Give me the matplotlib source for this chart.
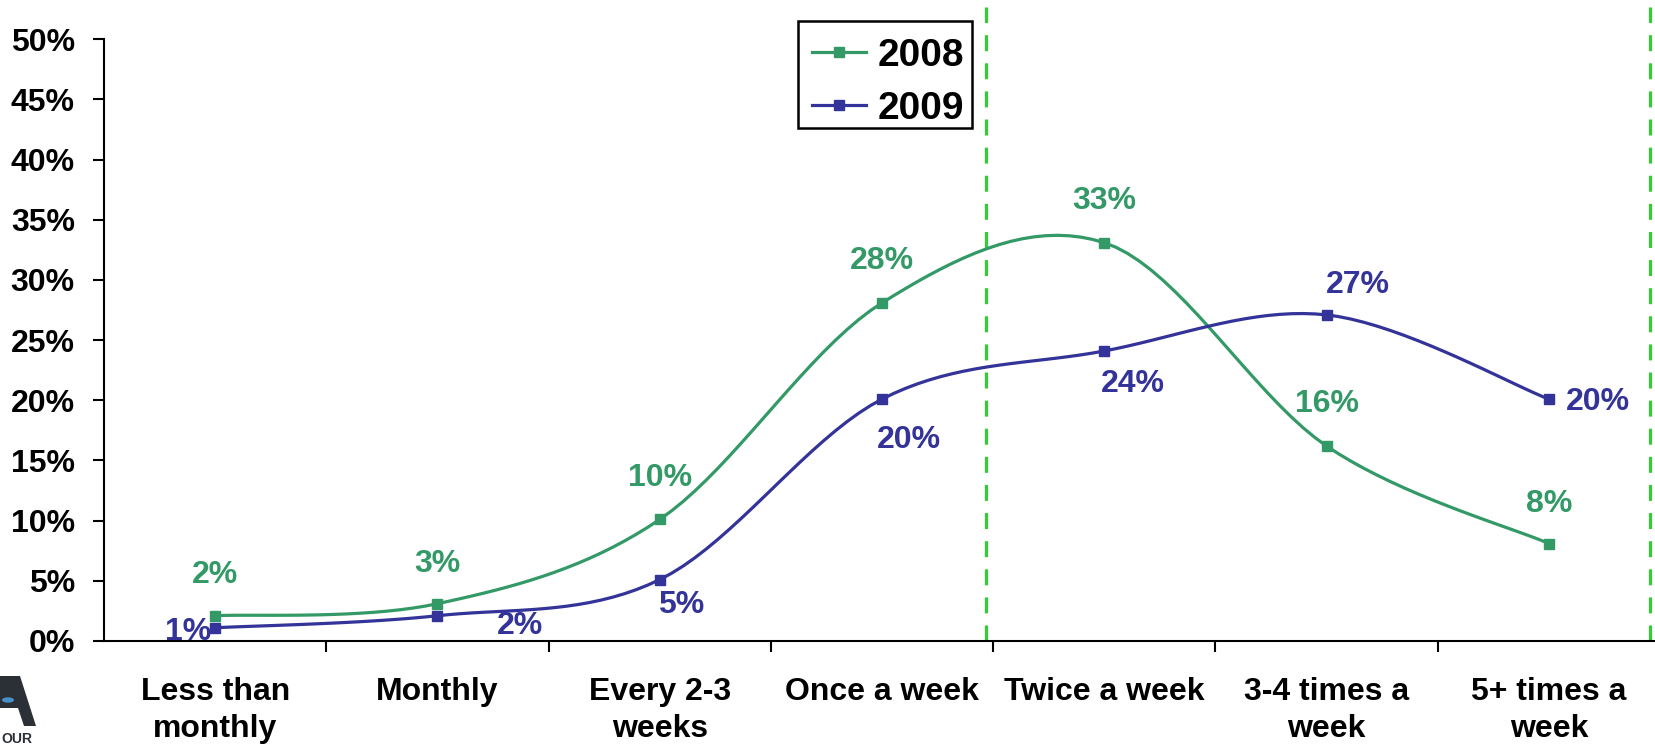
import numpy as np
import matplotlib
matplotlib.use("Agg")
import matplotlib.pyplot as plt
from matplotlib.patches import Polygon, Circle, Rectangle

categories = ["Less than\nmonthly", "Monthly", "Every 2-3\nweeks", "Once a week",
              "Twice a week", "3-4 times a\nweek", "5+ times a\nweek"]
values_2008 = [2.1, 3.1, 10.1, 28.1, 33.1, 16.2, 8.1]
values_2009 = [1.1, 2.1, 5.1, 20.1, 24.1, 27.1, 20.1]
labels_2008 = ["2%", "3%", "10%", "28%", "33%", "16%", "8%"]
labels_2009 = ["1%", "2%", "5%", "20%", "24%", "27%", "20%"]
# label offsets in pixels (dx, dy)
offsets_2008 = [(0, 41), (0, 40), (0, 41), (0, 42), (0, 42), (0, 42), (0, 40)]
offsets_2009 = [(-27, -4), (83, -10), (21, -25), (27, -41), (29, -33), (31, 30), (49, -3)]

GREEN = "#339966"
BLUE = "#333399"
DASH = "#33CC33"
FONT = "Liberation Sans"
W, H = 1656, 747


def fx(px):
    return px / W


def fy(py):
    # pixel row from the top -> figure fraction
    return 1 - py / H


def smooth(y, n=20):
    # Excel-style smoothed line (Catmull-Rom / Bezier)
    x = np.arange(len(y), dtype=float)
    y = np.asarray(y, dtype=float)
    px = np.concatenate([[x[0]], x, [x[-1]]])
    py = np.concatenate([[y[0]], y, [y[-1]]])
    xs, ys = [], []
    t = np.linspace(0, 1, n)
    for i in range(1, len(px) - 2):
        p0 = np.array([px[i], py[i]])
        p3 = np.array([px[i + 1], py[i + 1]])
        p1 = p0 + (np.array([px[i + 1], py[i + 1]]) - np.array([px[i - 1], py[i - 1]])) / 6
        p2 = p3 - (np.array([px[i + 2], py[i + 2]]) - np.array([px[i], py[i]])) / 6
        b = ((1 - t) ** 3)[:, None] * p0 + (3 * (1 - t) ** 2 * t)[:, None] * p1 \
            + (3 * (1 - t) * t ** 2)[:, None] * p2 + (t ** 3)[:, None] * p3
        xs.extend(b[:, 0])
        ys.extend(b[:, 1])
    return np.array(xs), np.array(ys)


fig = plt.figure(figsize=(W / 100, H / 100), dpi=100)
ax = fig.add_axes([fx(104), fy(641), fx(1556), 601.7 / H])

x = np.arange(len(categories))
for vals, color, name in [(values_2008, GREEN, "2008"), (values_2009, BLUE, "2009")]:
    sx, sy = smooth(vals)
    ax.plot(sx, sy, color=color, lw=2.3, zorder=3)
    ax.plot(x, vals, ls="none", marker="s", ms=7.5, color=color, zorder=4)
    ax.plot([], [], color=color, lw=2.3, marker="s", ms=7.5, label=name)

for xi, v, lab, off in zip(x, values_2008, labels_2008, offsets_2008):
    ax.annotate(lab, (xi, v), xytext=off, textcoords="offset pixels", ha="center", va="center",
                color=GREEN, fontsize=23, fontweight="bold", family=FONT, zorder=5)
for xi, v, lab, off in zip(x, values_2009, labels_2009, offsets_2009):
    ax.annotate(lab, (xi, v), xytext=off, textcoords="offset pixels", ha="center", va="center",
                color=BLUE, fontsize=23, fontweight="bold", family=FONT, zorder=5)

# dashed separators
for xv in [3.47, 6.455]:
    ax.axvline(xv, ymin=0, ymax=1.054, color=DASH, lw=2.3, ls=(0, (5.0, 3.8)), clip_on=False, zorder=2)

ax.set_xlim(-0.5, 6.5)
ax.set_ylim(0, 50)
ax.set_yticks(np.arange(0, 51, 5))
ax.set_yticklabels([f"{v}%" for v in range(0, 51, 5)])
ax.set_xticks(x)
ax.set_xticklabels(categories, linespacing=1.3)
ax.set_xticks(np.arange(0.5, 6.5, 1), minor=True)
ax.tick_params(axis="x", which="major", length=0, pad=26)
ax.tick_params(axis="x", which="minor", length=8, width=1.5, direction="out")
ax.tick_params(axis="y", length=8, width=1.5, pad=13)
for lab in ax.get_xticklabels() + ax.get_yticklabels():
    lab.set_fontsize(23)
    lab.set_fontweight("bold")
    lab.set_family(FONT)

for s in ["top", "right"]:
    ax.spines[s].set_visible(False)
ax.spines["left"].set_linewidth(1.5)
ax.spines["bottom"].set_linewidth(1.5)

leg = ax.legend(loc="upper left", bbox_to_anchor=(fx(798), fy(24)), bbox_transform=fig.transFigure,
                borderaxespad=0, frameon=False, handlelength=1.4, handletextpad=0.3,
                labelspacing=0.45, borderpad=0.35, prop={"family": FONT, "weight": "bold", "size": 28})
fig.patches.append(Rectangle((fx(798), fy(128)), fx(174), 107 / H, transform=fig.transFigure,
                             facecolor="none", edgecolor="black", lw=1.8))

# partial logo in the bottom-left corner
fig.patches.append(Polygon([[fx(0), fy(676)], [fx(20), fy(676)], [fx(36), fy(726)], [fx(24), fy(726)],
                            [fx(18), fy(708)], [fx(0), fy(708)]], closed=True, transform=fig.transFigure,
                           facecolor="#2b2f36", edgecolor="none"))
fig.patches.append(Circle((fx(8), fy(700)), 6 / W, transform=fig.transFigure,
                          facecolor="#4a90c8", edgecolor="none"))
fig.text(fx(1), fy(739), "OUR", fontsize=10, fontweight="bold", color="#2b2f36", family=FONT,
         ha="left", va="center")

fig.savefig("out.png", dpi=100)
